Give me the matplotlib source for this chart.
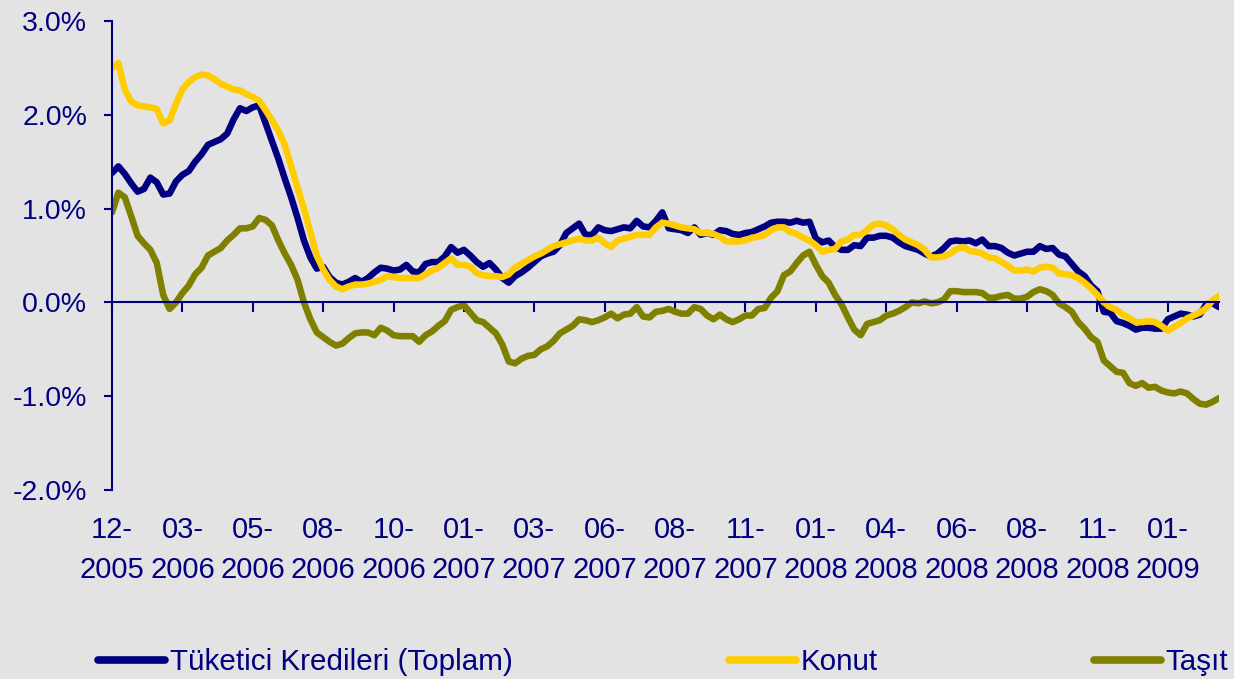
import numpy as np
import matplotlib
matplotlib.use('Agg')
import matplotlib.pyplot as plt
from matplotlib.ticker import FuncFormatter
from matplotlib.transforms import blended_transform_factory

plt.rcParams['font.family'] = ['Liberation Sans', 'DejaVu Sans']

# weekly growth rates (%), Dec-2005 .. Feb-2009
toplam = [
    1.38, 1.45, 1.37, 1.27, 1.18, 1.21, 1.33, 1.28, 1.15, 1.16,
    1.29, 1.36, 1.40, 1.50, 1.58, 1.68, 1.71, 1.74, 1.80, 1.95,
    2.07, 2.04, 2.08, 2.10, 1.91, 1.72, 1.53, 1.32, 1.12, 0.90,
    0.66, 0.48, 0.36, 0.38, 0.27, 0.21, 0.19, 0.22, 0.26, 0.22,
    0.26, 0.32, 0.37, 0.36, 0.34, 0.35, 0.40, 0.33, 0.32, 0.41,
    0.43, 0.43, 0.49, 0.59, 0.53, 0.56, 0.50, 0.43, 0.38, 0.42,
    0.35, 0.26, 0.21, 0.28, 0.32, 0.37, 0.43, 0.49, 0.52, 0.54,
    0.61, 0.74, 0.79, 0.84, 0.72, 0.72, 0.80, 0.77, 0.76, 0.78,
    0.80, 0.79, 0.87, 0.81, 0.80, 0.87, 0.96, 0.79, 0.78, 0.77,
    0.74, 0.80, 0.72, 0.74, 0.72, 0.77, 0.76, 0.73, 0.72, 0.74,
    0.75, 0.78, 0.81, 0.85, 0.86, 0.86, 0.85, 0.87, 0.85, 0.86,
    0.68, 0.64, 0.66, 0.59, 0.56, 0.56, 0.61, 0.60, 0.69, 0.69,
    0.71, 0.71, 0.69, 0.64, 0.60, 0.58, 0.56, 0.52, 0.49, 0.52,
    0.58, 0.65, 0.66, 0.65, 0.66, 0.63, 0.67, 0.60, 0.60, 0.58,
    0.53, 0.50, 0.52, 0.54, 0.54, 0.60, 0.57, 0.58, 0.51, 0.49,
    0.41, 0.33, 0.28, 0.18, 0.12, -0.10, -0.11, -0.20, -0.22, -0.25,
    -0.29, -0.27, -0.27, -0.28, -0.28, -0.18, -0.15, -0.12, -0.13, -0.15,
    -0.13, -0.02, -0.01, -0.05,
]

konut = [
    2.50, 2.55, 2.27, 2.14, 2.10, 2.09, 2.08, 2.06, 1.91, 1.94,
    2.12, 2.27, 2.35, 2.40, 2.43, 2.42, 2.38, 2.33, 2.30, 2.27,
    2.26, 2.22, 2.19, 2.15, 2.05, 1.94, 1.83, 1.68, 1.45, 1.22,
    1.00, 0.75, 0.50, 0.35, 0.24, 0.17, 0.14, 0.17, 0.19, 0.19,
    0.20, 0.22, 0.24, 0.28, 0.27, 0.26, 0.26, 0.26, 0.26, 0.30,
    0.34, 0.37, 0.42, 0.47, 0.40, 0.40, 0.38, 0.31, 0.29, 0.28,
    0.28, 0.27, 0.30, 0.37, 0.41, 0.45, 0.49, 0.52, 0.56, 0.60,
    0.62, 0.64, 0.66, 0.68, 0.66, 0.66, 0.69, 0.63, 0.59, 0.66,
    0.68, 0.70, 0.72, 0.72, 0.72, 0.80, 0.85, 0.84, 0.82, 0.80,
    0.79, 0.78, 0.74, 0.74, 0.73, 0.70, 0.65, 0.65, 0.65, 0.66,
    0.69, 0.70, 0.72, 0.77, 0.80, 0.80, 0.75, 0.73, 0.69, 0.66,
    0.61, 0.54, 0.56, 0.57, 0.65, 0.67, 0.72, 0.72, 0.77, 0.83,
    0.84, 0.82, 0.78, 0.72, 0.67, 0.64, 0.61, 0.56, 0.48, 0.48,
    0.49, 0.52, 0.57, 0.59, 0.55, 0.54, 0.52, 0.48, 0.47, 0.43,
    0.39, 0.34, 0.34, 0.35, 0.33, 0.37, 0.38, 0.37, 0.31, 0.30,
    0.29, 0.26, 0.21, 0.15, 0.08, 0.00, -0.05, -0.08, -0.13, -0.17,
    -0.21, -0.21, -0.20, -0.21, -0.25, -0.30, -0.26, -0.22, -0.17, -0.14,
    -0.11, -0.06, 0.02, 0.07,
]

tasit = [
    0.96, 1.17, 1.12, 0.92, 0.71, 0.63, 0.56, 0.42, 0.08, -0.07,
    0.00, 0.10, 0.18, 0.30, 0.37, 0.50, 0.54, 0.58, 0.66, 0.72,
    0.79, 0.79, 0.81, 0.90, 0.88, 0.82, 0.66, 0.52, 0.40, 0.24,
    0.00, -0.18, -0.32, -0.37, -0.42, -0.46, -0.44, -0.38, -0.33, -0.32,
    -0.32, -0.35, -0.27, -0.30, -0.35, -0.36, -0.36, -0.36, -0.42, -0.35,
    -0.31, -0.25, -0.20, -0.08, -0.05, -0.03, -0.11, -0.19, -0.21, -0.27,
    -0.33, -0.45, -0.63, -0.65, -0.60, -0.57, -0.56, -0.50, -0.47, -0.41,
    -0.33, -0.29, -0.25, -0.18, -0.19, -0.21, -0.19, -0.16, -0.12, -0.17,
    -0.13, -0.12, -0.05, -0.15, -0.16, -0.10, -0.09, -0.07, -0.10, -0.12,
    -0.12, -0.05, -0.07, -0.14, -0.18, -0.13, -0.18, -0.21, -0.18, -0.14,
    -0.14, -0.07, -0.06, 0.05, 0.12, 0.29, 0.33, 0.42, 0.50, 0.54,
    0.40, 0.28, 0.21, 0.08, -0.02, -0.16, -0.29, -0.35, -0.23, -0.21,
    -0.19, -0.14, -0.12, -0.09, -0.05, 0.00, -0.01, 0.01, -0.01, 0.00,
    0.03, 0.12, 0.12, 0.11, 0.11, 0.11, 0.10, 0.05, 0.05, 0.07,
    0.08, 0.04, 0.04, 0.06, 0.11, 0.14, 0.12, 0.08, -0.01, -0.05,
    -0.10, -0.21, -0.28, -0.37, -0.42, -0.62, -0.68, -0.74, -0.75, -0.86,
    -0.89, -0.86, -0.91, -0.90, -0.94, -0.96, -0.97, -0.95, -0.97, -1.03,
    -1.08, -1.09, -1.06, -1.02,
]

tick_labels = ['12-2005', '03-2006', '05-2006', '08-2006', '10-2006', '01-2007',
               '03-2007', '06-2007', '08-2007', '11-2007', '01-2008', '04-2008',
               '06-2008', '08-2008', '11-2008', '01-2009']
tick_step = 11  # weeks between category labels

BG = '#E3E3E3'
NAVY = '#000080'
YELLOW = '#FFCC00'
OLIVE = '#808000'
FS = 20.5

fig = plt.figure(figsize=(12.34, 6.79), dpi=100, facecolor=BG)
ax = fig.add_axes([112 / 1234, 1 - 490 / 679, (1219 - 112) / 1234, (490 - 21) / 679])
ax.set_facecolor(BG)

weeks = np.arange(len(toplam))
line_kw = dict(lw=4.7, solid_joinstyle='round', solid_capstyle='round')
ax.plot(weeks, toplam, color=NAVY, label='Tüketici Kredileri (Toplam)', **line_kw)
ax.plot(weeks, konut, color=YELLOW, label='Konut', **line_kw)
ax.plot(weeks, tasit, color=OLIVE, label='Taşıt', **line_kw)

ax.set_xlim(0, len(weeks) - 1)
ax.set_ylim(-2, 3)
ax.set_yticks(np.arange(-2, 3.5, 1))
ax.yaxis.set_major_formatter(FuncFormatter(lambda v, p: f'{v:.1f}%'))

for s in ['top', 'right']:
    ax.spines[s].set_visible(False)
ax.spines['bottom'].set_position(('data', 0))
for s in ['left', 'bottom']:
    ax.spines[s].set_color(NAVY)
    ax.spines[s].set_linewidth(1.5)

xticks = np.arange(len(tick_labels)) * tick_step
ax.set_xticks(xticks)
ax.tick_params(axis='x', direction='out', length=7, width=1.5, color=NAVY, labelbottom=False)
ax.tick_params(axis='y', direction='out', length=6, width=1.5, color=NAVY,
               labelcolor=NAVY, labelsize=FS, pad=12)

# two-line category labels below the plot area
trans = blended_transform_factory(ax.transData, ax.transAxes)
for pos, lab in zip(xticks, tick_labels):
    month, year = lab.split('-')
    ax.text(pos, -0.0853, month + '-', transform=trans, ha='center', va='center',
            fontsize=FS + 0.5, color=NAVY)
    ax.text(pos, -0.1706, year, transform=trans, ha='center', va='center',
            fontsize=FS + 0.5, color=NAVY)

leg = fig.legend(loc='center left', bbox_to_anchor=(98 / 1234, 1 - 662 / 679), ncol=3,
                 frameon=False, fontsize=21.3, labelcolor=NAVY, handlelength=2.26,
                 handletextpad=0.17, columnspacing=7.3, borderpad=0, borderaxespad=0)
for h in leg.legend_handles:
    h.set_linewidth(5.5)

fig.savefig('out.png', dpi=100, facecolor=BG)
